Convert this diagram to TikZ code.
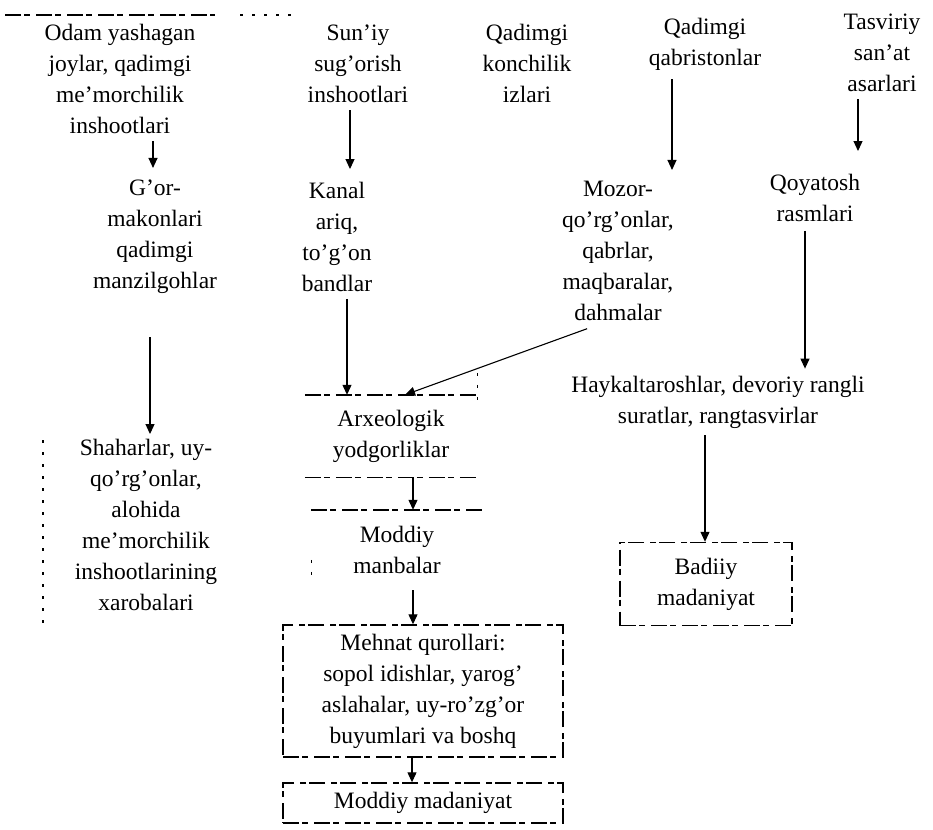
\documentclass[tikz,border=0pt]{standalone}
\usepackage{fontspec}
\setmainfont{Liberation Serif}
\usetikzlibrary{arrows.meta,calc}
\tikzset{
  txt/.style={font=\fontsize{23.5}{31}\selectfont, align=center, inner sep=3pt},
  arr/.style={-{Triangle[length=10pt,width=9pt]}, line width=1.1pt},
  brk/.style={line width=1.4pt, dash pattern=on 16pt off 3pt on 6pt off 6pt},
  dotl/.style={line width=1.4pt, dash pattern=on 3pt off 9pt},
  boxed/.style={txt, brk, draw}
}
\begin{document}
\begin{tikzpicture}[x=1pt,y=-1pt]
\useasboundingbox (0,0) rectangle (933,829);
% top row
\node[txt] (h1) at (120,79) {Odam yashagan\\joylar, qadimgi\\me'morchilik\\inshootlari};
\node[txt] (h2) at (358,64) {Sun'iy\\sug'orish\\inshootlari};
\node[txt] (h3) at (527,63) {Qadimgi\\konchilik\\izlari};
\node[txt] (h4) at (705,44) {Qadimgi\\qabristonlar};
\node[txt] (h5) at (882,53) {Tasviriy\\san'at\\asarlari};
\draw[brk] (5,15) -- (215,15);
\draw[dotl] (240,15) -- (298,15);
% second row
\node[txt] (gor) at (155,237) {G'or-\\makonlari\\qadimgi\\manzilgohlar};
\node[txt] (kanal) at (337,237) {Kanal\\ariq,\\to'g'on\\bandlar};
\node[txt] (mozor) at (618,251) {Mozor-\\qo'rg'onlar,\\qabrlar,\\maqbaralar,\\dahmalar};
\node[txt] (qoya) at (815,198) {Qoyatosh\\rasmlari};
% third level
\node[txt] (hayk) at (718,402) {Haykaltaroshlar, devoriy rangli\\suratlar, rangtasvirlar};
\node[txt] (shah) at (146,525) {Shaharlar, uy-\\qo'rg'onlar,\\alohida\\me'morchilik\\inshootlarining\\xarobalari};
\draw[dotl] (43,440) -- (43,628);
\node[txt, minimum width=172pt, minimum height=82pt] (arx) at (391,436) {Arxeologik\\yodgorliklar};
\draw[brk] (arx.north west) -- (arx.north east);
\draw[brk] (arx.south west) -- (arx.south east);
\draw[dotl] ([yshift=22pt]arx.north east) -- ([yshift=-8pt]arx.north east);
\node[txt, minimum width=171pt, minimum height=80pt] (mod) at (397,550) {Moddiy\\manbalar};
\draw[brk] (mod.north west) -- (mod.north east);
\draw[dotl] ([yshift=-50pt]mod.north west) -- ([yshift=-72pt]mod.north west);
\node[boxed, minimum width=172pt, minimum height=83pt] (bad) at (706,584) {Badiiy\\madaniyat};
\node[boxed, minimum width=280pt, minimum height=132pt] (meh) at (423,691) {Mehnat qurollari:\\sopol idishlar, yarog'\\aslahalar, uy-ro'zg'or\\buyumlari va boshq};
\node[boxed, minimum width=280pt, minimum height=40pt] (mm) at (423,803) {Moddiy madaniyat};
% connectors
\draw[arr, shorten <=4pt, shorten >=9pt] (153,0 |- h1.south) -- (153,0 |- gor.north);
\draw[arr, shorten <=4pt, shorten >=10pt] (350,0 |- h2.south) -- (350,0 |- kanal.north);
\draw[arr, shorten <=6pt, shorten >=8pt] (672,0 |- h4.south) -- (672,0 |- mozor.north);
\draw[arr, shorten <=4pt, shorten >=20pt] (858,0 |- h5.south) -- (858,0 |- qoya.north);
\draw[arr, shorten <=40pt, shorten >=2pt] (150,0 |- gor.south) -- (150,0 |- shah.north);
\draw[arr, shorten <=4pt] (347,0 |- kanal.south) -- (347,0 |- arx.north);
\draw[arr, shorten <=2pt] ([shift={(-29,4)}]mozor.south) -- (405,0 |- arx.north);
\draw[arr, shorten <=6pt, shorten >=4pt] (805,0 |- qoya.south) -- (805,0 |- hayk.north);
\draw[arr, shorten <=4pt] (705,0 |- hayk.south) -- (705,0 |- bad.north);
\draw[arr] (413,0 |- arx.south) -- (413,0 |- mod.north);
\draw[arr] (413,0 |- mod.south) -- (413,0 |- meh.north);
\draw[arr] (412,0 |- meh.south) -- (412,0 |- mm.north);
\end{tikzpicture}
\end{document}
